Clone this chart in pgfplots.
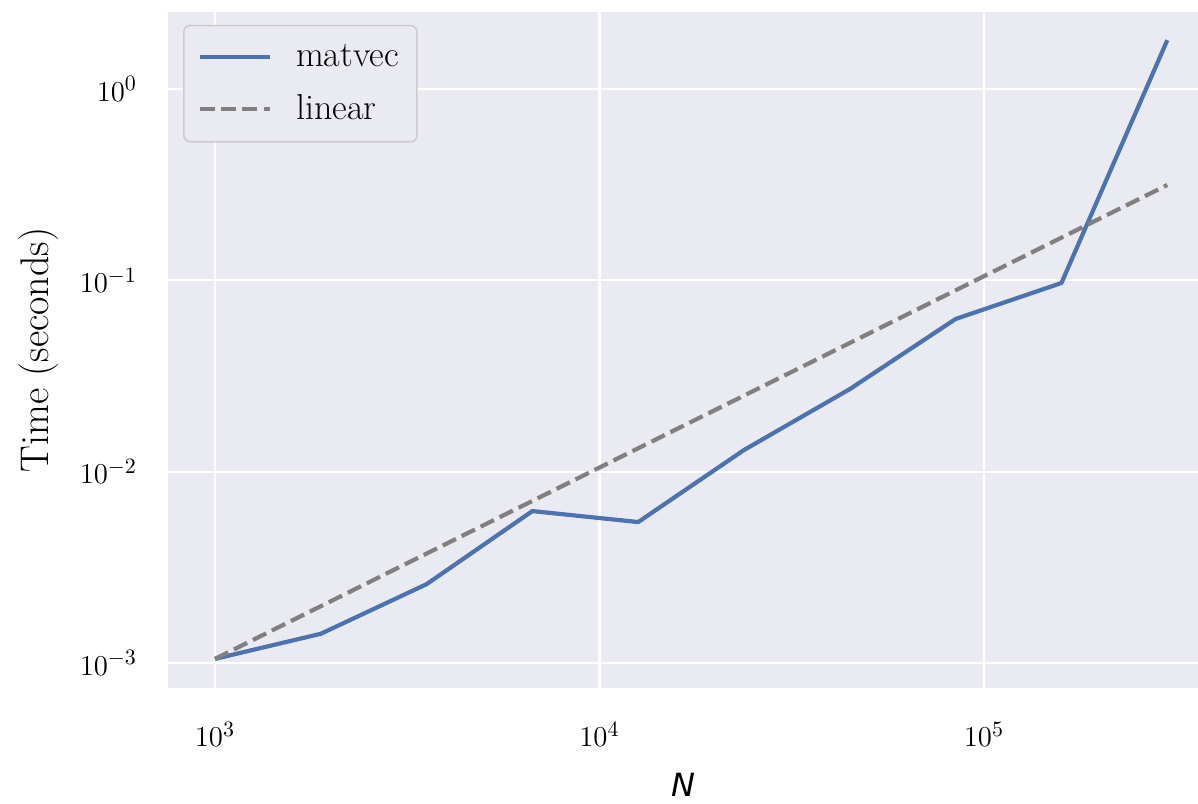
\documentclass[border=0pt]{standalone}
\usepackage{pgfplots}
\pgfplotsset{compat=1.18}
\usepackage{fontspec}
\newfontfamily\dejavu{DejaVu Sans}
\usetikzlibrary{calc}
\definecolor{bg}{HTML}{EAEAF2}
\definecolor{sblue}{HTML}{4C72B0}
\definecolor{lgray}{HTML}{CCCCCC}
\definecolor{dgray}{HTML}{808080}
\begin{document}
\begin{tikzpicture}
\begin{axis}[name=ax,
  xmode=log, ymode=log,
  scale only axis, width=515pt, height=338pt,
  xmin=755.1, xmax=360600, ymin=7.396e-4, ymax=2.526,
  axis background/.style={fill=bg},
  axis line style={draw=none},
  grid=major, major grid style={white, line width=1.1pt},
  tick style={draw=none},
  xtick={1e3,1e4,1e5}, ytick={1e-3,1e-2,1e-1,1},
  tick label style={font=\fontsize{15}{18}\selectfont},
  xticklabel style={yshift=-13.5pt},
  yticklabel style={xshift=-12pt},
  xlabel={{\dejavu\itshape N}},
  xlabel style={at={(axis description cs:0.5,-0.1435)}, anchor=center, font=\fontsize{16}{19}\selectfont},
  ylabel={Time (seconds)},
  ylabel style={at={(axis description cs:-0.126,0.5)}, anchor=center, font=\fontsize{20}{23}\selectfont},
  legend style={at={(axis description cs:0.0146,0.981)}, anchor=north west,
    draw=lgray, fill=bg, rounded corners=3pt, line width=0.8pt,
    font=\fontsize{18}{21}\selectfont, row sep=8.5pt, inner xsep=7pt, inner ysep=7.5pt,
    cells={anchor=west}},
  legend image code/.code={\draw[#1] plot coordinates {(0pt,0pt) (35pt,0pt)}; \path (45pt,0pt);},
  legend cell align=left,
]
\addplot[sblue, line width=2.1pt, line join=round] coordinates {
(1000,1.05e-3) (1884.6,1.42e-3) (3551.8,2.58e-3) (6693.7,6.22e-3) (12615,5.45e-3)
(23774,0.01297) (44805,0.0270) (84440,0.0628) (159134,0.0968) (300000,1.80)};
\addlegendentry{matvec}
\addplot[dgray, line width=2.1pt, dash pattern=on 7.4pt off 3.2pt] coordinates {
(1000,1.05e-3) (1884.6,1.979e-3) (3551.8,3.729e-3) (6693.7,7.028e-3) (12615,0.013246)
(23774,0.024963) (44805,0.047045) (84440,0.088662) (159134,0.16709) (300000,0.315)};
\addlegendentry{linear}
\end{axis}
\pgfresetboundingbox
\path ($(ax.south west)+(-84pt,-57.5pt)$) rectangle ($(ax.north east)+(0pt,6pt)$);
\end{tikzpicture}
\end{document}
